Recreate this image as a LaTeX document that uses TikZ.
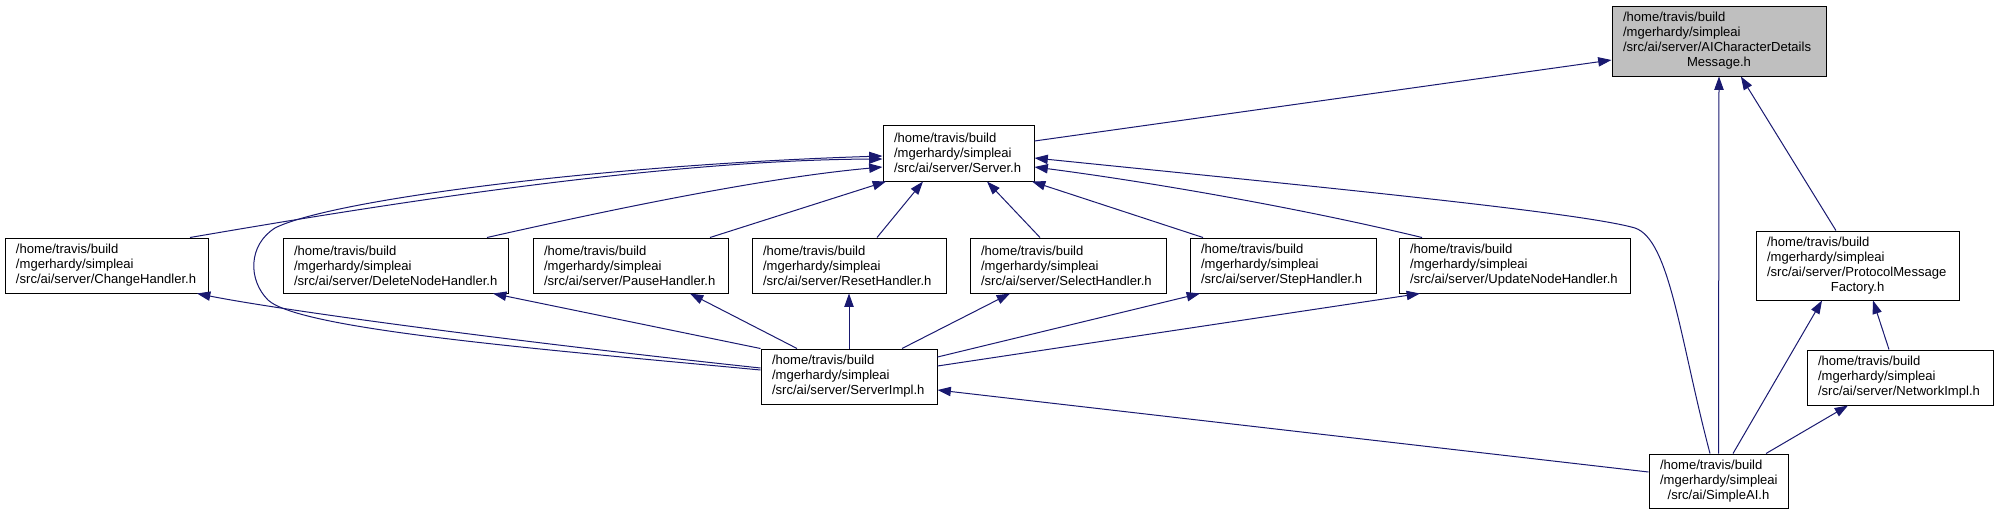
\documentclass[tikz,border=0pt]{standalone}
\usepackage{fontspec}
\setmainfont{Liberation Sans}
\usetikzlibrary{arrows.meta,calc}
\definecolor{depblue}{HTML}{191970}
\definecolor{focusgray}{HTML}{BFBFBF}
\newcommand{\hdpath}{/home/travis/build\\/mgerhardy/simpleai\\}
\newcommand{\lastc}[1]{\makebox[\linewidth][c]{#1}}
\tikzset{
filebox/.style={draw=black,line width=0.75pt,fill=white,font=\fontsize{9.8}{11.25}\selectfont,
align=left,inner xsep=8.25pt,inner ysep=0pt,minimum height=41.25pt,text width=#1},
focusbox/.style={filebox=#1,fill=focusgray,minimum height=52.5pt},
dep/.style={draw=depblue,line width=0.75pt,-{Triangle[length=10pt,width=7pt]}}
}

\begin{document}
\begin{tikzpicture}[x=0.75pt,y=-0.75pt]
\useasboundingbox (0,0) rectangle (1999,515);
% files
\node[focusbox=144pt] (msg) at (1719,41) {\hdpath /src/ai/server/AICharacterDetails\\\lastc{Message.h}};
\node[filebox=96.75pt,minimum height=42pt] (server) at (958.5,153) {\hdpath /src/ai/server/Server.h};
\node[filebox=135.75pt] (changeH) at (106.5,265.5) {\hdpath /src/ai/server/ChangeHandler.h};
\node[filebox=152.25pt] (deleteH) at (395.5,265.5) {\hdpath /src/ai/server/DeleteNodeHandler.h};
\node[filebox=129.75pt] (pauseH) at (630.5,265.5) {\hdpath /src/ai/server/PauseHandler.h};
\node[filebox=129pt] (resetH) at (849,265.5) {\hdpath /src/ai/server/ResetHandler.h};
\node[filebox=130.5pt] (selectH) at (1068,265.5) {\hdpath /src/ai/server/SelectHandler.h};
\node[filebox=123pt] (stepH) at (1283,265.5) {\hdpath /src/ai/server/StepHandler.h};
\node[filebox=156.75pt] (updateH) at (1514.5,265.5) {\hdpath /src/ai/server/UpdateNodeHandler.h};
\node[filebox=135.75pt,minimum height=51.75pt] (factory) at (1857.5,265.5) {\hdpath /src/ai/server/ProtocolMessage\\\lastc{Factory.h}};
\node[filebox=123pt] (netimpl) at (1900,377.5) {\hdpath /src/ai/server/NetworkImpl.h};
\node[filebox=87.75pt,minimum height=40.5pt] (simpleai) at (1718.5,481) {/home/travis/build\\/mgerhardy/simpleai\\\lastc{/src/ai/SimpleAI.h}};
\node[filebox=115.5pt] (srvimpl) at (849,376.5) {\hdpath /src/ai/server/ServerImpl.h};
% includes
\draw[dep] (server.east |- 0,141) -- (msg.west |- 0,60);
\draw[dep] (simpleai.north) -- (msg.south);
\draw[dep] (factory) -- (msg);
\draw[dep] (changeH.north -| 190,0) .. controls (350,210) and (650,160) .. (server.west |- 0,159);
\draw[dep] (deleteH.north -| 487,0) .. controls (600,212) and (760,178) .. (server.west |- 0,167);
\draw[dep] (pauseH.north -| 710,0) -- (server.south -| 886,0);
\draw[dep] (resetH.north -| 877,0) -- (server.south -| 923,0);
\draw[dep] (selectH.north -| 1040,0) -- (server.south -| 987,0);
\draw[dep] (stepH.north -| 1203,0) -- (server.south -| 1032,0);
\draw[dep] (updateH.north -| 1422,0) .. controls (1300,208) and (1150,182) .. (server.east |- 0,167);
\draw[dep] (simpleai.north -| 1710,0) .. controls (1680,340) and (1670,240) .. (1635,228)
  .. controls (1580,212) and (1300,185) .. (server.east |- 0,158);
\draw[dep] (srvimpl.west |- 0,370) .. controls (550,350) and (300,330) .. (268,300)
  .. controls (248,280) and (248,245) .. (275,228) .. controls (330,200) and (600,165) .. (server.west |- 0,156);
\draw[dep] (srvimpl.west |- 0,368) .. controls (500,340) and (280,310) .. (changeH.south -| 197,0);
\draw[dep] (srvimpl.north west) -- (deleteH.south -| 493,0);
\draw[dep] (srvimpl.north -| 797,0) -- (pauseH.south -| 690,0);
\draw[dep] (srvimpl.north) -- (resetH.south);
\draw[dep] (srvimpl.north -| 902,0) -- (selectH.south -| 1010,0);
\draw[dep] (srvimpl.east |- 0,357) -- (stepH.south -| 1200,0);
\draw[dep] (srvimpl.east |- 0,366) -- (updateH.south -| 1420,0);
\draw[dep] (simpleai.west |- 0,472) -- (srvimpl.east |- 0,390);
\draw[dep] (simpleai.north -| 1733,0) -- (factory.south -| 1822,0);
\draw[dep] (netimpl.north -| 1889,0) -- (factory.south -| 1873,0);
\draw[dep] (simpleai.north -| 1766,0) -- (netimpl.south -| 1848,0);
\end{tikzpicture}
\end{document}
